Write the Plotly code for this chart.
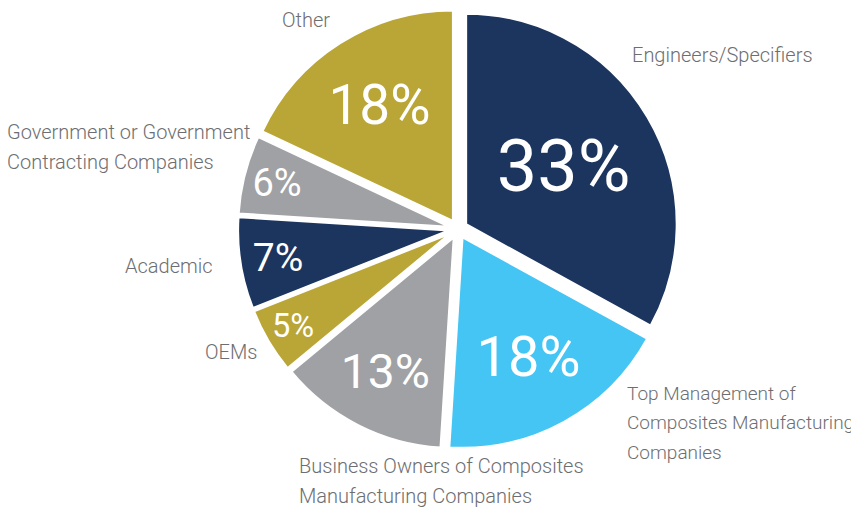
import plotly.graph_objects as go

categories = ["Engineers/Specifiers",
              "Top Management of<br>Composites Manufacturing<br>Companies",
              "Business Owners of Composites<br>Manufacturing Companies",
              "OEMs", "Academic",
              "Government or Government<br>Contracting Companies",
              "Other"]
values = [33, 18, 13, 5, 7, 6, 18]
pct_labels = ["33%", "18%", "13%", "5%", "7%", "6%", "18%"]

colors = ["#1c355e", "#45c5f3", "#a0a1a4", "#b9a637", "#1c355e", "#a0a1a4", "#b9a637"]
pct_sizes = [72, 56, 48, 35, 39, 38, 55]

FONT = "Roboto, sans-serif"
W, H = 859, 508
OFF = 8  # page body offset

fig = go.Figure(go.Pie(
    labels=categories, values=values, text=pct_labels,
    sort=False, direction="clockwise", rotation=0,
    marker=dict(colors=colors, line=dict(color="white", width=2)),
    pull=[0.045] * len(values),
    textinfo="text", textposition="inside", insidetextorientation="horizontal",
    textfont=dict(family=FONT, color="white", size=pct_sizes),
    hoverinfo="label+percent",
    domain=dict(x=[230 / W, 670 / W], y=[(H - 441) / H, (H - 1) / H]),
    showlegend=False,
))

# outside label placement: (x px, y px of first line centre, anchor, font size)
label_pos = [(631, 55, "left", 20), (626, 393, "left", 19), (298, 466, "left", 20),
             (258, 352, "right", 20), (214, 266, "right", 20), (6, 132, "left", 20),
             (331, 20, "right", 20)]
LINE = 29.5

for lab, (x, y, anc, fs) in zip(categories, label_pos):
    dx = -9 if anc == "left" else -7
    for i, line in enumerate(lab.split("<br>")):
        fig.add_annotation(x=(x + dx) / W, y=1 - (y - OFF + i * LINE) / H,
                           xref="paper", yref="paper",
                           text=line, showarrow=False, xanchor=anc, yanchor="middle",
                           font=dict(family=FONT, size=fs, color="#6d6e71", weight=300))

fig.update_layout(width=W, height=H, margin=dict(l=0, r=0, t=0, b=0),
                  paper_bgcolor="white", plot_bgcolor="white")
fig.write_html("out.html")
